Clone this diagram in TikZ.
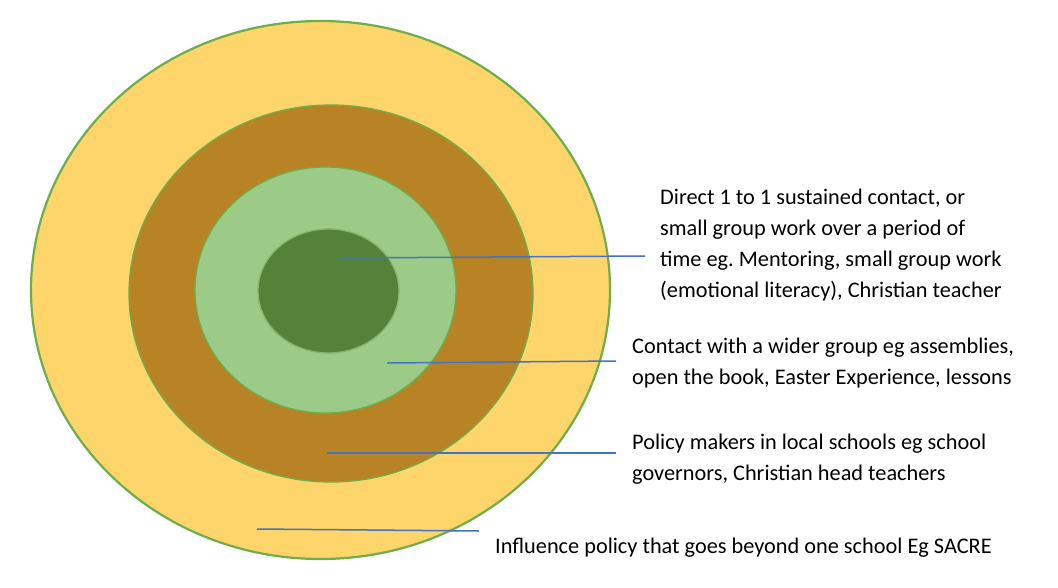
\documentclass[tikz,border=0pt]{standalone}
\usepackage{fontspec}
\setmainfont{Carlito}
\frenchspacing
\definecolor{ringyellow}{HTML}{FED56A}
\definecolor{ringbrown}{HTML}{B88325}
\definecolor{ringlight}{HTML}{9CCB88}
\definecolor{ringdark}{HTML}{548238}
\definecolor{ringedge}{HTML}{6DAE4A}
\definecolor{leadblue}{HTML}{4472C4}
\tikzset{
  ring/.style={draw=ringedge, line width=1.3pt},
  leader/.style={draw=leadblue, line width=1.5pt},
  label/.style={anchor=base west, align=left, inner sep=0pt, font=\fontsize{22.3}{31}\selectfont, text=black}
}
\begin{document}
\begin{tikzpicture}[x=1pt,y=-1pt]
\useasboundingbox (0,0) rectangle (1058,587);
% rings
\draw[ring, line width=2.2pt, fill=ringyellow] (320.5,290) ellipse [x radius=289.5pt, y radius=269pt];
\draw[ring, fill=ringbrown] (331,293.5) ellipse [x radius=202pt, y radius=188.5pt];
\draw[ring, fill=ringlight] (325.5,290) ellipse [x radius=130.5pt, y radius=123pt];
\draw[ring, draw=ringlight!70!ringdark, fill=ringdark] (328.5,291) ellipse [x radius=70.5pt, y radius=62pt];
% labels (anchor is the baseline of the last line)
\node[label] (t1) at (660,297) {Direct 1 to 1 sustained contact, or\\small group work over a period of\\time eg. Mentoring, small group work\\(emotional literacy), Christian teacher};
\node[label] (t2) at (632,384) {Contact with a wider group eg assemblies,\\open the book, Easter Experience, lessons};
\node[label] (t3) at (632,480) {Policy makers in local schools eg school\\governors, Christian head teachers};
\node[label] (t4) at (495,553) {Influence policy that goes beyond one school Eg SACRE};
% leader lines
\coordinate (a1) at (340,258);
\coordinate (b1) at (645,256);
\coordinate (a2) at (387,363);
\coordinate (b2) at (616,361);
\coordinate (a3) at (327,453);
\coordinate (b3) at (616,453);
\coordinate (a4) at (257,529);
\coordinate (b4) at (479,531);
\draw[leader] (a1) -- (b1);
\draw[leader] (a2) -- (b2);
\draw[leader] (a3) -- (b3);
\draw[leader] (a4) -- (b4);
\end{tikzpicture}
\end{document}
